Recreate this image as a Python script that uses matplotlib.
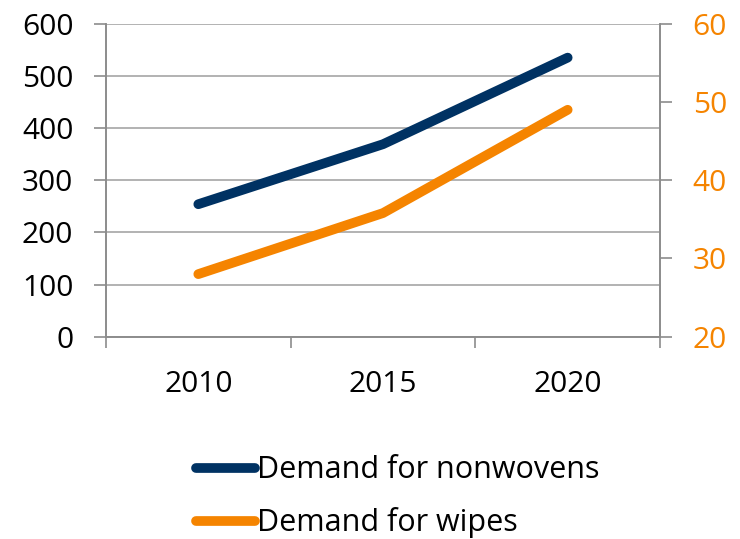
import matplotlib
matplotlib.use("Agg")
import matplotlib.pyplot as plt
from matplotlib.ticker import FixedLocator

years = ["2010", "2015", "2020"]
nonwovens = [254, 369, 535]
wipes = [28, 35.8, 49]

navy = "#003263"
orange = "#F58400"
grey = "#8C8C8C"

plt.rcParams["font.family"] = ["Open Sans", "DejaVu Sans"]
plt.rcParams["font.size"] = 21.5

fig = plt.figure(figsize=(7.4, 5.39), dpi=100)
ax = fig.add_axes([0.1432, 0.3753, 0.8919 - 0.1432, 0.956 - 0.3753])
ax2 = ax.twinx()

x = list(range(len(years)))
ln1, = ax.plot(x, nonwovens, color=navy, lw=7, solid_capstyle="round",
               solid_joinstyle="round", label="Demand for nonwovens")
ln2, = ax2.plot(x, wipes, color=orange, lw=7, solid_capstyle="round",
                solid_joinstyle="round", label="Demand for wipes")

ax.set_xlim(-0.5, len(years) - 0.5)
ax.set_ylim(0, 600)
ax.set_yticks(range(0, 601, 100))
ax2.set_ylim(20, 60)
ax2.set_yticks(range(20, 61, 10))

ax.set_xticks(x)
ax.set_xticklabels(years)
ax.xaxis.set_minor_locator(FixedLocator([-0.5, 0.5, 1.5, 2.5]))
ax.tick_params(axis="x", which="major", length=0, pad=24)
ax.tick_params(axis="x", which="minor", length=8, width=1.2, color=grey)
ax.tick_params(axis="y", length=8.5, width=1.2, color=grey, pad=15)
ax2.tick_params(axis="y", length=8.5, width=1.2, color=grey, pad=15,
                labelcolor=orange)

ax.grid(axis="y", color="#A6A6A6", lw=1.2)
ax.set_axisbelow(True)
for a in (ax, ax2):
    a.spines["top"].set_visible(False)
    for s in ("left", "right", "bottom"):
        a.spines[s].set_color(grey)
        a.spines[s].set_linewidth(1.2)

fig.legend(handles=[ln1, ln2], loc="center", bbox_to_anchor=(0.537, 0.078),
           frameon=False, handlelength=1.95, handletextpad=0.05,
           labelspacing=0.72, fontsize=22)

fig.savefig("out.png", dpi=100)
